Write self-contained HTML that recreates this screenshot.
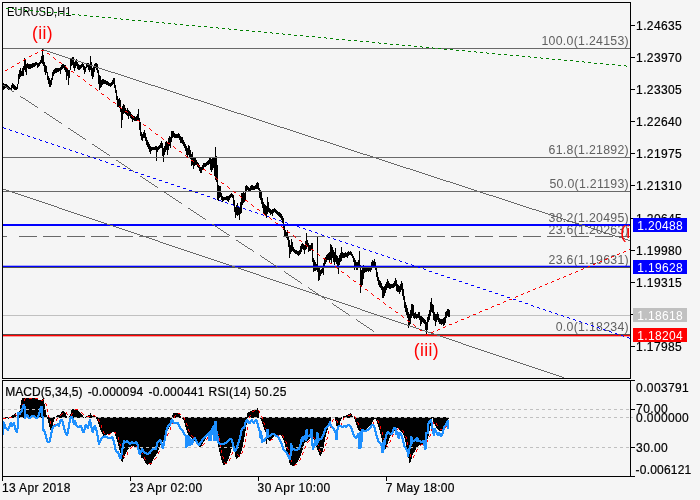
<!DOCTYPE html>
<html><head><meta charset="utf-8"><title>EURUSD,H1</title>
<style>
html,body{margin:0;padding:0;background:#f5f5f5}
body{width:700px;height:500px;overflow:hidden;position:relative}
svg{position:absolute;left:0;top:0;display:block;will-change:transform;opacity:0.999}
text{font-family:"Liberation Sans",sans-serif;font-size:12px;fill:#000;stroke:#000;stroke-width:0.2px}
.ax{letter-spacing:0.37px}
.fib{font-size:12.3px;fill:#606060;stroke:none;text-anchor:end;letter-spacing:0.3px}
.wave{font-size:17.5px;fill:#ff0000;stroke:none;letter-spacing:0.35px}
.c{shape-rendering:crispEdges}
</style></head><body>

<svg width="700" height="500" viewBox="0 0 700 500">
<rect x="0" y="0" width="700" height="500" fill="#f5f5f5"/>
<defs><clipPath id="cm"><rect x="3" y="3" width="627" height="375"/></clipPath><clipPath id="ci"><rect x="3" y="381" width="627" height="95"/></clipPath></defs>
<text transform="translate(7.0,16) scale(0.893,1)" style="font-size:12.5px;stroke:none">EURUSD,H1</text>
<g clip-path="url(#cm)">
<rect class="c" x="3" y="315" width="627" height="1" fill="#c0c0c0"/>
<path class="c" d="M3.5 83 V90 M4.5 84 V89 M5.5 84 V88 M6.5 84 V88 M7.5 85 V89 M8.5 86 V90 M9.5 87 V90 M10.5 88 V90 M11.5 85 V90 M12.5 83 V88 M13.5 84 V89 M14.5 85 V90 M15.5 86 V90 M16.5 87 V90 M17.5 84 V89 M18.5 74 V84 M19.5 70 V79 M20.5 68 V77 M21.5 71 V76 M22.5 68 V76 M23.5 66 V76 M24.5 58 V70 M25.5 60 V72 M26.5 64 V75 M27.5 63 V68 M28.5 63.5 V69 M29.5 64 V69 M30.5 63.5 V68.5 M31.5 63.5 V68 M32.5 63 V67.5 M33.5 63 V67 M34.5 62.5 V66.5 M35.5 62 V66 M36.5 62 V65 M37.5 63 V68 M38.5 63 V67 M39.5 62 V66 M40.5 60 V64 M41.5 56 V63 M42.5 49 V64 M43.5 55 V66 M44.5 62 V72 M45.5 65 V75 M46.5 66 V73 M47.5 72 V80 M48.5 76 V84 M49.5 78 V87 M50.5 80 V87 M51.5 78 V85 M52.5 72 V80 M53.5 70 V76 M54.5 69 V74 M55.5 68 V73 M56.5 68 V72.5 M57.5 68 V72 M58.5 67.5 V71.5 M59.5 67.5 V71 M60.5 67 V74 M61.5 65 V70 M62.5 64 V69 M63.5 64 V68 M64.5 64.5 V70 M65.5 65 V72 M66.5 67 V80 M67.5 68 V76 M68.5 70 V85 M69.5 70 V78 M70.5 58 V70 M71.5 59 V66 M72.5 57 V65 M73.5 57 V68 M74.5 62 V71 M75.5 60 V68 M76.5 59 V66 M77.5 62 V69 M78.5 64 V69.5 M79.5 65 V69.5 M80.5 64.5 V69 M81.5 64 V68 M82.5 63 V66.5 M83.5 64 V70 M84.5 66 V74 M85.5 67 V72 M86.5 64 V68 M87.5 63 V67 M88.5 63 V70 M89.5 64 V72 M90.5 56 V70 M91.5 62 V76 M92.5 68 V79 M93.5 66 V77 M94.5 64 V72 M95.5 63 V68 M96.5 63 V70 M97.5 64 V73 M98.5 70 V84 M99.5 75 V90 M100.5 76 V88 M101.5 80 V87 M102.5 79 V85 M103.5 79 V84 M104.5 79.5 V84 M105.5 80 V84 M106.5 80.5 V84.5 M107.5 81 V85 M108.5 82 V86 M109.5 82.5 V86 M110.5 83 V86.5 M111.5 82 V86 M112.5 80 V85 M113.5 78 V84 M114.5 78 V88 M115.5 85 V93 M116.5 90 V100 M117.5 96 V107 M118.5 99 V107 M119.5 98 V108 M120.5 100 V112 M121.5 108 V128 M122.5 106 V120 M123.5 104 V114 M124.5 105 V113 M125.5 108 V114 M126.5 110 V115 M127.5 108 V116 M128.5 110 V119 M129.5 111 V116 M130.5 112 V118 M131.5 114 V119 M132.5 115 V122 M133.5 116 V120 M134.5 116 V121 M135.5 117 V121 M136.5 116 V121 M137.5 114 V121 M138.5 109 V121 M139.5 118 V130 M140.5 122 V136 M141.5 132 V140 M142.5 134 V141 M143.5 132 V138 M144.5 130 V138 M145.5 133 V141 M146.5 137 V145 M147.5 140 V147 M148.5 142 V149 M149.5 144 V152 M150.5 146 V154 M151.5 147 V151 M152.5 147 V150 M153.5 147 V150 M154.5 146.5 V149.5 M155.5 146 V150 M156.5 146 V161 M157.5 147 V152 M158.5 145.5 V149.5 M159.5 144.5 V148.5 M160.5 143 V147.5 M161.5 140.5 V148 M162.5 143 V156 M163.5 148 V162 M164.5 146 V155 M165.5 141.5 V152 M166.5 141 V150 M167.5 142 V154.5 M168.5 138 V150 M169.5 136 V146 M170.5 137 V148 M171.5 131 V142 M172.5 131 V138 M173.5 131 V137 M174.5 133 V138 M175.5 134 V138 M176.5 134 V138 M177.5 134 V138 M178.5 133 V138 M179.5 134 V140 M180.5 136 V143 M181.5 137 V143 M182.5 137 V144 M183.5 140 V146 M184.5 142 V148 M185.5 143.5 V150.5 M186.5 145.5 V155 M187.5 148 V158 M188.5 145 V154.5 M189.5 146 V157 M190.5 150 V159 M191.5 154 V166 M192.5 152 V165 M193.5 157 V169 M194.5 158 V166 M195.5 158 V165 M196.5 160 V165 M197.5 162 V167 M198.5 163 V168 M199.5 165 V171 M200.5 167 V173 M201.5 167 V173 M202.5 165 V170 M203.5 163 V169 M204.5 163 V167 M205.5 163 V166.5 M206.5 162 V166 M207.5 161 V165 M208.5 160 V165 M209.5 158 V164 M210.5 158 V170 M211.5 159 V172 M212.5 158 V170 M213.5 157 V168 M214.5 158 V176 M215.5 147 V180 M216.5 156 V182 M217.5 165 V200 M218.5 185 V201 M219.5 186 V198 M220.5 186 V197 M221.5 193 V200 M222.5 196 V202 M223.5 197 V201 M224.5 197 V200 M225.5 196.5 V200 M226.5 196 V200 M227.5 196 V201 M228.5 196 V202 M229.5 195 V200 M230.5 193.5 V198 M231.5 193 V197 M232.5 194 V198 M233.5 195 V205 M234.5 200 V212 M235.5 207 V218 M236.5 205 V215 M237.5 203 V216 M238.5 206 V215 M239.5 207 V220 M240.5 202 V214 M241.5 193 V213 M242.5 193 V205 M243.5 192 V203 M244.5 193 V202 M245.5 186 V200 M246.5 185 V191 M247.5 186 V190 M248.5 187 V191 M249.5 188 V191 M250.5 186 V191 M251.5 185 V190 M252.5 184.5 V190 M253.5 186 V190 M254.5 186 V190 M255.5 185 V189 M256.5 182.5 V189 M257.5 182 V189 M258.5 182.5 V190 M259.5 188 V198 M260.5 190 V200 M261.5 192 V204 M262.5 198 V208 M263.5 202 V213 M264.5 204 V214 M265.5 205 V215 M266.5 206 V218 M267.5 197 V214 M268.5 202 V212 M269.5 208 V213 M270.5 209 V215 M271.5 210 V214 M272.5 209 V216 M273.5 209 V213 M274.5 208 V212 M275.5 209 V213 M276.5 210 V214 M277.5 211 V215 M278.5 211.5 V216 M279.5 212 V217 M280.5 213 V218 M281.5 214 V220 M282.5 216 V223 M283.5 218 V230 M284.5 224 V236 M285.5 230 V236 M286.5 232 V238 M287.5 230 V240 M288.5 237 V247 M289.5 240 V258 M290.5 245 V254 M291.5 239 V252 M292.5 242 V251 M293.5 247 V252 M294.5 249 V253 M295.5 250 V254 M296.5 250 V254 M297.5 251 V255 M298.5 251 V255.5 M299.5 250 V255 M300.5 246 V254 M301.5 244 V252 M302.5 243 V249 M303.5 244 V250 M304.5 245 V254 M305.5 241 V250 M306.5 233 V249 M307.5 240 V247 M308.5 243 V252 M309.5 245 V251 M310.5 245 V250.5 M311.5 243 V250 M312.5 243 V262 M313.5 258 V272 M314.5 260 V271 M315.5 262 V271 M316.5 264 V270 M317.5 236 V272 M318.5 266 V281 M319.5 268 V280 M320.5 270 V276 M321.5 269 V274 M322.5 268 V273 M323.5 263 V275 M324.5 258 V266 M325.5 257 V264 M326.5 255 V262 M327.5 254 V260 M328.5 253 V260 M329.5 252 V262 M330.5 244 V260 M331.5 245 V264 M332.5 247 V258 M333.5 250 V262 M334.5 252 V265 M335.5 248 V262 M336.5 255 V264 M337.5 256 V266 M338.5 258 V274 M339.5 255 V265 M340.5 253 V262 M341.5 247 V261 M342.5 252 V258 M343.5 253 V258 M344.5 253 V258 M345.5 252 V257 M346.5 253 V257 M347.5 252 V258 M348.5 251 V256 M349.5 251.5 V255 M350.5 251 V255 M351.5 252 V256 M352.5 254 V258 M353.5 256 V262 M354.5 258 V270 M355.5 260 V266 M356.5 262 V270 M357.5 262 V270 M358.5 260 V266 M359.5 251 V268 M360.5 265 V293 M361.5 270 V286 M362.5 268 V285 M363.5 265 V279 M364.5 267 V273 M365.5 267 V272 M366.5 267 V272 M367.5 266 V271 M368.5 267 V272 M369.5 267 V271 M370.5 266 V272 M371.5 262 V270 M372.5 260 V267 M373.5 261 V266 M374.5 259 V266 M375.5 262 V270 M376.5 267 V277 M377.5 272 V281 M378.5 277 V285 M379.5 280 V287 M380.5 281 V288 M381.5 283 V290 M382.5 286 V298 M383.5 287 V298 M384.5 286 V296 M385.5 284 V293 M386.5 282 V290 M387.5 279 V288 M388.5 281 V288 M389.5 283 V289 M390.5 284 V289 M391.5 284 V288 M392.5 284 V288 M393.5 283 V288 M394.5 281 V287 M395.5 278 V286 M396.5 280 V291 M397.5 284 V292 M398.5 285 V292 M399.5 286 V294 M400.5 284 V292 M401.5 281 V290 M402.5 283 V296 M403.5 289 V300 M404.5 296 V308 M405.5 302 V312 M406.5 305 V315 M407.5 308 V318 M408.5 312 V328 M409.5 314 V326 M410.5 310 V324 M411.5 304 V318 M412.5 304 V316 M413.5 305 V318 M414.5 313 V319 M415.5 312 V318 M416.5 314 V319 M417.5 314 V318 M418.5 312 V318 M419.5 312 V320 M420.5 316 V326 M421.5 316 V324 M422.5 317 V322 M423.5 318 V323 M424.5 319 V324 M425.5 320 V330 M426.5 322 V334 M427.5 317 V330 M428.5 314 V322 M429.5 310 V320 M430.5 302 V316 M431.5 298 V312 M432.5 304 V313 M433.5 305 V320 M434.5 312 V321 M435.5 314 V326 M436.5 314 V322 M437.5 312 V320 M438.5 314 V322 M439.5 318 V324 M440.5 319 V324 M441.5 319 V325 M442.5 319 V324 M443.5 318 V326 M444.5 317 V325 M445.5 312 V323 M446.5 311 V318 M447.5 309 V316 M448.5 309 V317 M449.5 310 V317" stroke="#000" stroke-width="1" fill="none"/>
<rect class="c" x="3" y="48" width="627" height="1" fill="#696969"/>
<rect class="c" x="3" y="157" width="627" height="1" fill="#696969"/>
<rect class="c" x="3" y="191" width="627" height="1" fill="#696969"/>
<rect class="c" x="3" y="236" width="4" height="1" fill="#696969"/>
<rect class="c" x="19" y="236" width="18" height="1" fill="#696969"/>
<rect class="c" x="43" y="236" width="18" height="1" fill="#696969"/>
<rect class="c" x="67" y="236" width="18" height="1" fill="#696969"/>
<rect class="c" x="91" y="236" width="18" height="1" fill="#696969"/>
<rect class="c" x="115" y="236" width="18" height="1" fill="#696969"/>
<rect class="c" x="139" y="236" width="18" height="1" fill="#696969"/>
<rect class="c" x="163" y="236" width="18" height="1" fill="#696969"/>
<rect class="c" x="187" y="236" width="18" height="1" fill="#696969"/>
<rect class="c" x="211" y="236" width="18" height="1" fill="#696969"/>
<rect class="c" x="235" y="236" width="18" height="1" fill="#696969"/>
<rect class="c" x="259" y="236" width="18" height="1" fill="#696969"/>
<rect class="c" x="283" y="236" width="18" height="1" fill="#696969"/>
<rect class="c" x="307" y="236" width="18" height="1" fill="#696969"/>
<rect class="c" x="331" y="236" width="18" height="1" fill="#696969"/>
<rect class="c" x="355" y="236" width="18" height="1" fill="#696969"/>
<rect class="c" x="379" y="236" width="18" height="1" fill="#696969"/>
<rect class="c" x="403" y="236" width="18" height="1" fill="#696969"/>
<rect class="c" x="427" y="236" width="18" height="1" fill="#696969"/>
<rect class="c" x="451" y="236" width="18" height="1" fill="#696969"/>
<rect class="c" x="475" y="236" width="18" height="1" fill="#696969"/>
<rect class="c" x="499" y="236" width="18" height="1" fill="#696969"/>
<rect class="c" x="523" y="236" width="18" height="1" fill="#696969"/>
<rect class="c" x="547" y="236" width="18" height="1" fill="#696969"/>
<rect class="c" x="571" y="236" width="18" height="1" fill="#696969"/>
<rect class="c" x="595" y="236" width="18" height="1" fill="#696969"/>
<rect class="c" x="619" y="236" width="11" height="1" fill="#696969"/>
<text class="fib" x="629" y="45">100.0(1.24153)</text>
<text class="fib" x="629" y="154">61.8(1.21892)</text>
<text class="fib" x="629" y="188">50.0(1.21193)</text>
<text class="fib" x="629" y="222">38.2(1.20495)</text>
<text class="fib" x="629" y="233.5">23.6(1.20263)</text>
<text class="fib" x="629" y="264">23.6(1.19631)</text>
<text class="fib" x="629" y="330.5">0.0(1.18234)</text>
<rect class="c" x="3" y="224" width="627" height="2" fill="#0000ff"/>
<rect class="c" x="3" y="266" width="627" height="1" fill="#0000ff"/>
<rect x="3" y="265" width="627" height="1" fill="#0000ff" opacity="0.3"/>
<rect class="c" x="3" y="267" width="627" height="1" fill="#55554a"/>
<rect class="c" x="3" y="334" width="627" height="1" fill="#5a4a4a"/>
<rect class="c" x="3" y="335" width="627" height="1" fill="#ff0000"/>
<rect x="3" y="336" width="627" height="1" fill="#ff0000" opacity="0.35"/>
<path class="c" d="M43 49.5H44M44 50.5H47M47 51.5H50M50 52.5H53M53 53.5H56M56 54.5H59M59 55.5H62M62 56.5H65M65 57.5H68M68 58.5H72M72 59.5H75M75 60.5H78M78 61.5H81M81 62.5H84M84 63.5H87M87 64.5H90M90 65.5H93M93 66.5H96M96 67.5H99M99 68.5H102M102 69.5H105M105 70.5H108M108 71.5H111M111 72.5H115M115 73.5H118M118 74.5H121M121 75.5H124M124 76.5H127M127 77.5H130M130 78.5H133M133 79.5H136M136 80.5H139M139 81.5H142M142 82.5H145M145 83.5H148M148 84.5H151M151 85.5H155M155 86.5H158M158 87.5H161M161 88.5H164M164 89.5H167M167 90.5H170M170 91.5H173M173 92.5H176M176 93.5H179M179 94.5H182M182 95.5H185M185 96.5H188M188 97.5H191M191 98.5H194M194 99.5H198M198 100.5H201M201 101.5H204M204 102.5H207M207 103.5H210M210 104.5H213M213 105.5H216M216 106.5H219M219 107.5H222M222 108.5H225M225 109.5H228M228 110.5H231M231 111.5H234M234 112.5H237M237 113.5H241M241 114.5H244M244 115.5H247M247 116.5H250M250 117.5H253M253 118.5H256M256 119.5H259M259 120.5H262M262 121.5H265M265 122.5H268M268 123.5H271M271 124.5H274M274 125.5H277M277 126.5H280M280 127.5H284M284 128.5H287M287 129.5H290M290 130.5H293M293 131.5H296M296 132.5H299M299 133.5H302M302 134.5H305M305 135.5H308M308 136.5H311M311 137.5H314M314 138.5H317M317 139.5H320M320 140.5H324M324 141.5H327M327 142.5H330M330 143.5H333M333 144.5H336M336 145.5H339M339 146.5H342M342 147.5H345M345 148.5H348M348 149.5H351M351 150.5H354M354 151.5H357M357 152.5H360M360 153.5H363M363 154.5H367M367 155.5H370M370 156.5H373M373 157.5H376M376 158.5H379M379 159.5H382M382 160.5H385M385 161.5H388M388 162.5H391M391 163.5H394M394 164.5H397M397 165.5H400M400 166.5H403M403 167.5H406M406 168.5H410M410 169.5H413M413 170.5H416M416 171.5H419M419 172.5H422M422 173.5H425M425 174.5H428M428 175.5H431M431 176.5H434M434 177.5H437M437 178.5H440M440 179.5H443M443 180.5H446M446 181.5H450M450 182.5H453M453 183.5H456M456 184.5H459M459 185.5H462M462 186.5H465M465 187.5H468M468 188.5H471M471 189.5H474M474 190.5H477M477 191.5H480M480 192.5H483M483 193.5H486M486 194.5H489M489 195.5H493M493 196.5H496M496 197.5H499M499 198.5H502M502 199.5H505M505 200.5H508M508 201.5H511M511 202.5H514M514 203.5H517M517 204.5H520M520 205.5H523M523 206.5H526M526 207.5H529M529 208.5H532M532 209.5H536M536 210.5H539M539 211.5H542M542 212.5H545M545 213.5H548M548 214.5H551M551 215.5H554M554 216.5H557M557 217.5H560M560 218.5H563M563 219.5H566M566 220.5H569M569 221.5H572M572 222.5H575M575 223.5H579M579 224.5H582M582 225.5H585M585 226.5H588M588 227.5H591M591 228.5H594M594 229.5H597M597 230.5H600M600 231.5H603M603 232.5H606M606 233.5H609M609 234.5H612M612 235.5H615M615 236.5H619M619 237.5H622M622 238.5H625M625 239.5H628M628 240.5H630" stroke="#696969" stroke-width="1" fill="none"/>
<path class="c" d="M3 189.5H6M6 190.5H9M9 191.5H12M12 192.5H15M15 193.5H18M18 194.5H21M21 195.5H24M24 196.5H27M27 197.5H30M30 198.5H33M33 199.5H36M36 200.5H39M39 201.5H42M42 202.5H45M45 203.5H48M48 204.5H51M51 205.5H54M54 206.5H57M57 207.5H59M59 208.5H62M62 209.5H65M65 210.5H68M68 211.5H71M71 212.5H74M74 213.5H77M77 214.5H80M80 215.5H83M83 216.5H86M86 217.5H89M89 218.5H92M92 219.5H95M95 220.5H98M98 221.5H101M101 222.5H104M104 223.5H107M107 224.5H110M110 225.5H113M113 226.5H116M116 227.5H119M119 228.5H122M122 229.5H125M125 230.5H128M128 231.5H131M131 232.5H134M134 233.5H137M137 234.5H140M140 235.5H143M143 236.5H146M146 237.5H149M149 238.5H152M152 239.5H155M155 240.5H158M158 241.5H160M160 242.5H163M163 243.5H166M166 244.5H169M169 245.5H172M172 246.5H175M175 247.5H178M178 248.5H181M181 249.5H184M184 250.5H187M187 251.5H190M190 252.5H193M193 253.5H196M196 254.5H199M199 255.5H202M202 256.5H205M205 257.5H208M208 258.5H211M211 259.5H214M214 260.5H217M217 261.5H220M220 262.5H223M223 263.5H226M226 264.5H229M229 265.5H232M232 266.5H235M235 267.5H238M238 268.5H241M241 269.5H244M244 270.5H247M247 271.5H250M250 272.5H253M253 273.5H256M256 274.5H259M259 275.5H261M261 276.5H264M264 277.5H267M267 278.5H270M270 279.5H273M273 280.5H276M276 281.5H279M279 282.5H282M282 283.5H285M285 284.5H288M288 285.5H291M291 286.5H294M294 287.5H297M297 288.5H300M300 289.5H303M303 290.5H306M306 291.5H309M309 292.5H312M312 293.5H315M315 294.5H318M318 295.5H321M321 296.5H324M324 297.5H327M327 298.5H330M330 299.5H333M333 300.5H336M336 301.5H339M339 302.5H342M342 303.5H345M345 304.5H348M348 305.5H351M351 306.5H354M354 307.5H357M357 308.5H360M360 309.5H362M362 310.5H365M365 311.5H368M368 312.5H371M371 313.5H374M374 314.5H377M377 315.5H380M380 316.5H383M383 317.5H386M386 318.5H389M389 319.5H392M392 320.5H395M395 321.5H398M398 322.5H401M401 323.5H404M404 324.5H407M407 325.5H410M410 326.5H413M413 327.5H416M416 328.5H419M419 329.5H422M422 330.5H425M425 331.5H428M428 332.5H431M431 333.5H434M434 334.5H437M437 335.5H440M440 336.5H443M443 337.5H446M446 338.5H449M449 339.5H452M452 340.5H455M455 341.5H458M458 342.5H461M461 343.5H463M463 344.5H466M466 345.5H469M469 346.5H472M472 347.5H475M475 348.5H478M478 349.5H481M481 350.5H484M484 351.5H487M487 352.5H490M490 353.5H493M493 354.5H496M496 355.5H499M499 356.5H502M502 357.5H505M505 358.5H508M508 359.5H511M511 360.5H514M514 361.5H517M517 362.5H520M520 363.5H523M523 364.5H526M526 365.5H529M529 366.5H532M532 367.5H535M535 368.5H538M538 369.5H541M541 370.5H544M544 371.5H547M547 372.5H550M550 373.5H553M553 374.5H556M556 375.5H559M559 376.5H562M562 377.5H564M564 378.5H567" stroke="#696969" stroke-width="1" fill="none"/>
<path class="c" d="M3 85.5H5M5 86.5H6M6 87.5H8M8 88.5H9M9 89.5H11M11 90.5H12M12 91.5H14M20 96.5H21M21 97.5H23M23 98.5H25M25 99.5H26M26 100.5H28M28 101.5H29M29 102.5H31M31 103.5H32M32 104.5H34M34 105.5H35M35 106.5H37M37 107.5H38M44 112.5H46M46 113.5H47M47 114.5H49M49 115.5H50M50 116.5H52M52 117.5H53M53 118.5H55M55 119.5H56M56 120.5H58M58 121.5H59M59 122.5H61M61 123.5H62M68 128.5H70M70 129.5H71M71 130.5H73M73 131.5H74M74 132.5H76M76 133.5H77M77 134.5H79M79 135.5H80M80 136.5H82M82 137.5H83M83 138.5H85M85 139.5H86M92 144.5H94M94 145.5H95M95 146.5H97M97 147.5H98M98 148.5H100M100 149.5H101M101 150.5H103M103 151.5H104M104 152.5H106M106 153.5H107M107 154.5H109M109 155.5H110M116 160.5H118M118 161.5H119M119 162.5H121M121 163.5H122M122 164.5H124M124 165.5H125M125 166.5H127M127 167.5H128M128 168.5H130M130 169.5H131M131 170.5H133M133 171.5H134M140 176.5H142M142 177.5H143M143 178.5H145M145 179.5H146M146 180.5H148M148 181.5H149M149 182.5H151M151 183.5H152M152 184.5H154M154 185.5H155M155 186.5H157M157 187.5H158M164 192.5H166M166 193.5H167M167 194.5H169M169 195.5H170M170 196.5H172M172 197.5H173M173 198.5H175M175 199.5H176M176 200.5H178M178 201.5H179M179 202.5H181M181 203.5H182M188 208.5H190M190 209.5H191M191 210.5H193M193 211.5H194M194 212.5H196M196 213.5H197M197 214.5H199M199 215.5H200M200 216.5H202M202 217.5H203M203 218.5H205M205 219.5H206M212 224.5H214M214 225.5H215M215 226.5H217M217 227.5H218M218 228.5H220M220 229.5H221M221 230.5H223M223 231.5H224M224 232.5H226M226 233.5H227M227 234.5H229M229 235.5H230M236 240.5H238M238 241.5H239M239 242.5H241M241 243.5H242M242 244.5H244M244 245.5H245M245 246.5H247M247 247.5H248M248 248.5H250M250 249.5H252M252 250.5H253M253 251.5H254M260 255.5H261M261 256.5H262M262 257.5H264M264 258.5H265M265 259.5H267M267 260.5H268M268 261.5H270M270 262.5H271M271 263.5H273M273 264.5H274M274 265.5H276M276 266.5H277M277 267.5H278M284 271.5H285M285 272.5H286M286 273.5H288M288 274.5H289M289 275.5H291M291 276.5H292M292 277.5H294M294 278.5H295M295 279.5H297M297 280.5H298M298 281.5H300M300 282.5H301M301 283.5H302M308 287.5H309M309 288.5H310M310 289.5H312M312 290.5H313M313 291.5H315M315 292.5H316M316 293.5H318M318 294.5H319M319 295.5H321M321 296.5H322M322 297.5H324M324 298.5H325M325 299.5H326M332 303.5H333M333 304.5H334M334 305.5H336M336 306.5H337M337 307.5H339M339 308.5H340M340 309.5H342M342 310.5H343M343 311.5H345M345 312.5H346M346 313.5H348M348 314.5H349M349 315.5H350M356 319.5H357M357 320.5H358M358 321.5H360M360 322.5H361M361 323.5H363M363 324.5H364M364 325.5H366M366 326.5H367M367 327.5H369M369 328.5H370M370 329.5H372M372 330.5H373M373 331.5H374" stroke="#696969" stroke-width="1" fill="none"/>
<path class="c" d="M3 127.5h1M4 128.5h1M5 128.5h1M9 129.5h1M10 130.5h1M11 130.5h1M15 131.5h1M16 132.5h1M17 132.5h1M21 133.5h1M22 134.5h1M23 134.5h1M27 135.5h1M28 136.5h1M29 136.5h1M33 137.5h1M34 138.5h1M35 138.5h1M39 139.5h1M40 140.5h1M41 140.5h1M45 141.5h1M46 142.5h1M47 142.5h1M51 143.5h1M52 144.5h1M53 144.5h1M57 145.5h1M58 146.5h1M59 146.5h1M63 147.5h1M64 148.5h1M65 148.5h1M69 149.5h1M70 150.5h1M71 150.5h1M75 151.5h1M76 152.5h1M77 152.5h1M81 153.5h1M82 154.5h1M83 154.5h1M87 155.5h1M88 156.5h1M89 156.5h1M93 157.5h1M94 158.5h1M95 158.5h1M99 159.5h1M100 160.5h1M101 160.5h1M105 161.5h1M106 162.5h1M107 162.5h1M111 164.5h1M112 164.5h1M113 164.5h1M117 166.5h1M118 166.5h1M119 166.5h1M123 168.5h1M124 168.5h1M125 168.5h1M129 170.5h1M130 170.5h1M131 170.5h1M135 172.5h1M136 172.5h1M137 172.5h1M141 174.5h1M142 174.5h1M143 174.5h1M147 176.5h1M148 176.5h1M149 176.5h1M153 178.5h1M154 178.5h1M155 178.5h1M159 180.5h1M160 180.5h1M161 180.5h1M165 182.5h1M166 182.5h1M167 182.5h1M171 184.5h1M172 184.5h1M173 184.5h1M177 186.5h1M178 186.5h1M179 186.5h1M183 188.5h1M184 188.5h1M185 188.5h1M189 190.5h1M190 190.5h1M191 190.5h1M195 192.5h1M196 192.5h1M197 192.5h1M201 194.5h1M202 194.5h1M203 194.5h1M207 196.5h1M208 196.5h1M209 196.5h1M213 198.5h1M214 198.5h1M215 199.5h1M219 200.5h1M220 200.5h1M221 201.5h1M225 202.5h1M226 202.5h1M227 203.5h1M231 204.5h1M232 204.5h1M233 205.5h1M237 206.5h1M238 206.5h1M239 207.5h1M243 208.5h1M244 208.5h1M245 209.5h1M249 210.5h1M250 210.5h1M251 211.5h1M255 212.5h1M256 212.5h1M257 213.5h1M261 214.5h1M262 214.5h1M263 215.5h1M267 216.5h1M268 216.5h1M269 217.5h1M273 218.5h1M274 218.5h1M275 219.5h1M279 220.5h1M280 220.5h1M281 221.5h1M285 222.5h1M286 222.5h1M287 223.5h1M291 224.5h1M292 224.5h1M293 225.5h1M297 226.5h1M298 226.5h1M299 227.5h1M303 228.5h1M304 228.5h1M305 229.5h1M309 230.5h1M310 230.5h1M311 231.5h1M315 232.5h1M316 232.5h1M317 233.5h1M321 234.5h1M322 235.5h1M323 235.5h1M327 236.5h1M328 237.5h1M329 237.5h1M333 238.5h1M334 239.5h1M335 239.5h1M339 240.5h1M340 241.5h1M341 241.5h1M345 242.5h1M346 243.5h1M347 243.5h1M351 244.5h1M352 245.5h1M353 245.5h1M357 246.5h1M358 247.5h1M359 247.5h1M363 248.5h1M364 249.5h1M365 249.5h1M369 250.5h1M370 251.5h1M371 251.5h1M375 252.5h1M376 253.5h1M377 253.5h1M381 254.5h1M382 255.5h1M383 255.5h1M387 256.5h1M388 257.5h1M389 257.5h1M393 258.5h1M394 259.5h1M395 259.5h1M399 260.5h1M400 261.5h1M401 261.5h1M405 262.5h1M406 263.5h1M407 263.5h1M411 264.5h1M412 265.5h1M413 265.5h1M417 266.5h1M418 267.5h1M419 267.5h1M423 268.5h1M424 269.5h1M425 269.5h1M429 271.5h1M430 271.5h1M431 271.5h1M435 273.5h1M436 273.5h1M437 273.5h1M441 275.5h1M442 275.5h1M443 275.5h1M447 277.5h1M448 277.5h1M449 277.5h1M453 279.5h1M454 279.5h1M455 279.5h1M459 281.5h1M460 281.5h1M461 281.5h1M465 283.5h1M466 283.5h1M467 283.5h1M471 285.5h1M472 285.5h1M473 285.5h1M477 287.5h1M478 287.5h1M479 287.5h1M483 289.5h1M484 289.5h1M485 289.5h1M489 291.5h1M490 291.5h1M491 291.5h1M495 293.5h1M496 293.5h1M497 293.5h1M501 295.5h1M502 295.5h1M503 295.5h1M507 297.5h1M508 297.5h1M509 297.5h1M513 299.5h1M514 299.5h1M515 299.5h1M519 301.5h1M520 301.5h1M521 301.5h1M525 303.5h1M526 303.5h1M527 303.5h1M531 305.5h1M532 305.5h1M533 306.5h1M537 307.5h1M538 307.5h1M539 308.5h1M543 309.5h1M544 309.5h1M545 310.5h1M549 311.5h1M550 311.5h1M551 312.5h1M555 313.5h1M556 313.5h1M557 314.5h1M561 315.5h1M562 315.5h1M563 316.5h1M567 317.5h1M568 317.5h1M569 318.5h1M573 319.5h1M574 319.5h1M575 320.5h1M579 321.5h1M580 321.5h1M581 322.5h1M585 323.5h1M586 323.5h1M587 324.5h1M591 325.5h1M592 325.5h1M593 326.5h1M597 327.5h1M598 327.5h1M599 328.5h1M603 329.5h1M604 329.5h1M605 330.5h1M609 331.5h1M610 331.5h1M611 332.5h1M615 333.5h1M616 333.5h1M617 334.5h1M621 335.5h1M622 335.5h1M623 336.5h1M627 337.5h1M628 337.5h1M629 338.5h1" stroke="#0000ff" stroke-width="1" fill="none"/>
<path class="c" d="M6 8.5h1M7 8.5h1M8 8.5h1M12 8.5h1M13 8.5h1M14 9.5h1M18 9.5h1M19 9.5h1M20 9.5h1M24 9.5h1M25 10.5h1M26 10.5h1M30 10.5h1M31 10.5h1M32 10.5h1M36 11.5h1M37 11.5h1M38 11.5h1M42 11.5h1M43 11.5h1M44 11.5h1M48 12.5h1M49 12.5h1M50 12.5h1M54 12.5h1M55 12.5h1M56 12.5h1M60 13.5h1M61 13.5h1M62 13.5h1M66 13.5h1M67 13.5h1M68 14.5h1M72 14.5h1M73 14.5h1M74 14.5h1M78 14.5h1M79 15.5h1M80 15.5h1M84 15.5h1M85 15.5h1M86 15.5h1M90 16.5h1M91 16.5h1M92 16.5h1M96 16.5h1M97 16.5h1M98 16.5h1M102 17.5h1M103 17.5h1M104 17.5h1M108 17.5h1M109 17.5h1M110 17.5h1M114 18.5h1M115 18.5h1M116 18.5h1M120 18.5h1M121 19.5h1M122 19.5h1M126 19.5h1M127 19.5h1M128 19.5h1M132 20.5h1M133 20.5h1M134 20.5h1M138 20.5h1M139 20.5h1M140 20.5h1M144 21.5h1M145 21.5h1M146 21.5h1M150 21.5h1M151 21.5h1M152 21.5h1M156 22.5h1M157 22.5h1M158 22.5h1M162 22.5h1M163 22.5h1M164 23.5h1M168 23.5h1M169 23.5h1M170 23.5h1M174 23.5h1M175 24.5h1M176 24.5h1M180 24.5h1M181 24.5h1M182 24.5h1M186 25.5h1M187 25.5h1M188 25.5h1M192 25.5h1M193 25.5h1M194 25.5h1M198 26.5h1M199 26.5h1M200 26.5h1M204 26.5h1M205 26.5h1M206 26.5h1M210 27.5h1M211 27.5h1M212 27.5h1M216 27.5h1M217 27.5h1M218 28.5h1M222 28.5h1M223 28.5h1M224 28.5h1M228 28.5h1M229 29.5h1M230 29.5h1M234 29.5h1M235 29.5h1M236 29.5h1M240 30.5h1M241 30.5h1M242 30.5h1M246 30.5h1M247 30.5h1M248 30.5h1M252 31.5h1M253 31.5h1M254 31.5h1M258 31.5h1M259 31.5h1M260 31.5h1M264 32.5h1M265 32.5h1M266 32.5h1M270 32.5h1M271 32.5h1M272 33.5h1M276 33.5h1M277 33.5h1M278 33.5h1M282 33.5h1M283 34.5h1M284 34.5h1M288 34.5h1M289 34.5h1M290 34.5h1M294 35.5h1M295 35.5h1M296 35.5h1M300 35.5h1M301 35.5h1M302 35.5h1M306 36.5h1M307 36.5h1M308 36.5h1M312 36.5h1M313 36.5h1M314 36.5h1M318 37.5h1M319 37.5h1M320 37.5h1M324 37.5h1M325 37.5h1M326 38.5h1M330 38.5h1M331 38.5h1M332 38.5h1M336 39.5h1M337 39.5h1M338 39.5h1M342 39.5h1M343 39.5h1M344 39.5h1M348 40.5h1M349 40.5h1M350 40.5h1M354 40.5h1M355 40.5h1M356 40.5h1M360 41.5h1M361 41.5h1M362 41.5h1M366 41.5h1M367 41.5h1M368 41.5h1M372 42.5h1M373 42.5h1M374 42.5h1M378 42.5h1M379 43.5h1M380 43.5h1M384 43.5h1M385 43.5h1M386 43.5h1M390 44.5h1M391 44.5h1M392 44.5h1M396 44.5h1M397 44.5h1M398 44.5h1M402 45.5h1M403 45.5h1M404 45.5h1M408 45.5h1M409 45.5h1M410 45.5h1M414 46.5h1M415 46.5h1M416 46.5h1M420 46.5h1M421 46.5h1M422 47.5h1M426 47.5h1M427 47.5h1M428 47.5h1M432 47.5h1M433 48.5h1M434 48.5h1M438 48.5h1M439 48.5h1M440 48.5h1M444 49.5h1M445 49.5h1M446 49.5h1M450 49.5h1M451 49.5h1M452 49.5h1M456 50.5h1M457 50.5h1M458 50.5h1M462 50.5h1M463 50.5h1M464 50.5h1M468 51.5h1M469 51.5h1M470 51.5h1M474 51.5h1M475 51.5h1M476 52.5h1M480 52.5h1M481 52.5h1M482 52.5h1M486 52.5h1M487 53.5h1M488 53.5h1M492 53.5h1M493 53.5h1M494 53.5h1M498 54.5h1M499 54.5h1M500 54.5h1M504 54.5h1M505 54.5h1M506 54.5h1M510 55.5h1M511 55.5h1M512 55.5h1M516 55.5h1M517 55.5h1M518 55.5h1M522 56.5h1M523 56.5h1M524 56.5h1M528 56.5h1M529 56.5h1M530 57.5h1M534 57.5h1M535 57.5h1M536 57.5h1M540 57.5h1M541 58.5h1M542 58.5h1M546 58.5h1M547 58.5h1M548 58.5h1M552 59.5h1M553 59.5h1M554 59.5h1M558 59.5h1M559 59.5h1M560 59.5h1M564 60.5h1M565 60.5h1M566 60.5h1M570 60.5h1M571 60.5h1M572 60.5h1M576 61.5h1M577 61.5h1M578 61.5h1M582 61.5h1M583 61.5h1M584 62.5h1M588 62.5h1M589 62.5h1M590 62.5h1M594 63.5h1M595 63.5h1M596 63.5h1M600 63.5h1M601 63.5h1M602 63.5h1M606 64.5h1M607 64.5h1M608 64.5h1M612 64.5h1M613 64.5h1M614 64.5h1M618 65.5h1M619 65.5h1M620 65.5h1M624 65.5h1M625 65.5h1M626 66.5h1" stroke="#008000" stroke-width="1" fill="none"/>
<path class="c" d="M5 70.5h1M6 70.5h1M7 69.5h1M11 67.5h1M12 66.5h1M13 66.5h1M17 63.5h1M18 63.5h1M19 62.5h1M23 60.5h1M24 59.5h1M25 59.5h1M29 56.5h1M30 56.5h1M31 55.5h1M35 53.5h1M36 53.5h1M37 52.5h1M41 50.5h1M42 50.5h1M43 50.5h1" stroke="#ff0000" stroke-width="1" fill="none"/>
<path class="c" d="M47 53.5h1M48 53.5h1M49 54.5h1M53 57.5h1M54 58.5h1M55 59.5h1M59 62.5h1M60 62.5h1M61 63.5h1M65 66.5h1M66 67.5h1M67 68.5h1M71 71.5h1M72 71.5h1M73 72.5h1M77 75.5h1M78 76.5h1M79 76.5h1M83 79.5h1M84 80.5h1M85 81.5h1M89 84.5h1M90 85.5h1M91 85.5h1M95 88.5h1M96 89.5h1M97 90.5h1M101 93.5h1M102 94.5h1M103 94.5h1M107 97.5h1M108 98.5h1M109 99.5h1M113 102.5h1M114 102.5h1M115 103.5h1M119 106.5h1M120 107.5h1M121 108.5h1M125 111.5h1M126 111.5h1M127 112.5h1M131 115.5h1M132 116.5h1M133 117.5h1M137 120.5h1M138 120.5h1M139 121.5h1M143 124.5h1M144 125.5h1M145 125.5h1M149 128.5h1M150 129.5h1M151 130.5h1M155 133.5h1M156 134.5h1M157 134.5h1M161 137.5h1M162 138.5h1M163 139.5h1M167 142.5h1M168 143.5h1M169 143.5h1M173 146.5h1M174 147.5h1M175 148.5h1M179 151.5h1M180 151.5h1M181 152.5h1M185 155.5h1M186 156.5h1M187 157.5h1M191 160.5h1M192 160.5h1M193 161.5h1M197 164.5h1M198 165.5h1M199 166.5h1M203 169.5h1M204 169.5h1M205 170.5h1M209 173.5h1M210 174.5h1M211 174.5h1M215 177.5h1M216 178.5h1M217 179.5h1M221 182.5h1M222 183.5h1M223 183.5h1M227 186.5h1M228 187.5h1M229 188.5h1M233 191.5h1M234 192.5h1M235 192.5h1M239 195.5h1M240 196.5h1M241 197.5h1M245 200.5h1M246 200.5h1M247 201.5h1M251 204.5h1M252 205.5h1M253 206.5h1M257 209.5h1M258 209.5h1M259 210.5h1M263 213.5h1M264 214.5h1M265 215.5h1M269 217.5h1M270 218.5h1M271 219.5h1M275 222.5h1M276 223.5h1M277 223.5h1M281 226.5h1M282 227.5h1M283 228.5h1M287 231.5h1M288 232.5h1M289 232.5h1M293 235.5h1M294 236.5h1M295 237.5h1M299 240.5h1M300 240.5h1M301 241.5h1M305 244.5h1M306 245.5h1M307 246.5h1M311 249.5h1M312 249.5h1M313 250.5h1M317 253.5h1M318 254.5h1M319 255.5h1M323 258.5h1M324 258.5h1M325 259.5h1M329 262.5h1M330 263.5h1M331 263.5h1M335 266.5h1M336 267.5h1M337 268.5h1M341 271.5h1M342 272.5h1M343 272.5h1M347 275.5h1M348 276.5h1M349 277.5h1M353 280.5h1M354 281.5h1M355 281.5h1M359 284.5h1M360 285.5h1M361 286.5h1M365 289.5h1M366 289.5h1M367 290.5h1M371 293.5h1M372 294.5h1M373 295.5h1M377 298.5h1M378 298.5h1M379 299.5h1M383 302.5h1M384 303.5h1M385 304.5h1M389 307.5h1M390 307.5h1M391 308.5h1M395 311.5h1M396 312.5h1M397 312.5h1M401 315.5h1M402 316.5h1M403 317.5h1M407 320.5h1M408 321.5h1M409 321.5h1M413 324.5h1M414 325.5h1M415 326.5h1M419 329.5h1M420 330.5h1M421 330.5h1" stroke="#ff0000" stroke-width="1" fill="none"/>
<path class="c" d="M425 335.5h1M426 334.5h1M427 334.5h1M431 332.5h1M432 332.5h1M433 331.5h1M437 330.5h1M438 329.5h1M439 329.5h1M443 327.5h1M444 327.5h1M445 326.5h1M449 324.5h1M450 324.5h1M451 324.5h1M455 322.5h1M456 322.5h1M457 321.5h1M461 319.5h1M462 319.5h1M463 319.5h1M467 317.5h1M468 317.5h1M469 316.5h1M473 314.5h1M474 314.5h1M475 314.5h1M479 312.5h1M480 311.5h1M481 311.5h1M485 309.5h1M486 309.5h1M487 309.5h1M491 307.5h1M492 306.5h1M493 306.5h1M497 304.5h1M498 304.5h1M499 304.5h1M503 302.5h1M504 301.5h1M505 301.5h1M509 299.5h1M510 299.5h1M511 299.5h1M515 297.5h1M516 296.5h1M517 296.5h1M521 294.5h1M522 294.5h1M523 293.5h1M527 292.5h1M528 291.5h1M529 291.5h1M533 289.5h1M534 289.5h1M535 288.5h1M539 287.5h1M540 286.5h1M541 286.5h1M545 284.5h1M546 284.5h1M547 283.5h1M551 282.5h1M552 281.5h1M553 281.5h1M557 279.5h1M558 279.5h1M559 278.5h1M563 277.5h1M564 276.5h1M565 276.5h1M569 274.5h1M570 274.5h1M571 273.5h1M575 272.5h1M576 271.5h1M577 271.5h1M581 269.5h1M582 269.5h1M583 268.5h1M587 267.5h1M588 266.5h1M589 266.5h1M593 264.5h1M594 264.5h1M595 263.5h1M599 262.5h1M600 261.5h1M601 261.5h1M605 259.5h1M606 259.5h1M607 258.5h1M611 257.5h1M612 256.5h1M613 256.5h1M617 254.5h1M618 254.5h1M619 253.5h1M623 252.5h1M624 251.5h1M625 251.5h1M629 249.5h1" stroke="#ff0000" stroke-width="1" fill="none"/>
<text class="wave" x="32.0" y="39.0">(ii)</text>
<text class="wave" x="413.8" y="355.6">(iii)</text>
<text class="wave" x="620.2" y="238.4">(i)</text>
</g>
<g clip-path="url(#ci)">
<path class="c" d="M3.5 417 V418.5 M4.5 417 V418.5 M5.5 417 V418 M6.5 416.5 V418 M7.5 417 V418 M8.5 417 V418.5 M10.5 416.5 V418 M11.5 416 V418 M12.5 415 V418 M13.5 414.5 V418 M14.5 413.5 V418 M15.5 413 V418 M18.5 414 V418 M19.5 411 V418 M20.5 405 V418 M21.5 400 V418 M22.5 398 V418 M23.5 398 V418 M24.5 398 V418 M25.5 398 V418 M26.5 398 V418 M27.5 398 V418 M28.5 398 V418 M29.5 398 V418 M30.5 398 V418 M31.5 398 V418 M32.5 398 V418 M33.5 398 V418 M34.5 398 V418 M35.5 398 V418 M36.5 398 V418 M37.5 398 V418 M38.5 400 V418 M39.5 400 V418 M40.5 400 V418 M41.5 400 V418 M42.5 399 V418 M43.5 398 V418 M44.5 404 V418 M45.5 410 V418 M46.5 415 V418 M47.5 417 V418.5 M48.5 417 V422.5 M49.5 417 V426.5 M50.5 417 V430 M51.5 417 V429.5 M52.5 417 V425.5 M53.5 417 V421.5 M54.5 417 V419 M56.5 416 V418 M57.5 414.5 V418 M58.5 414.5 V418 M59.5 414.5 V418 M60.5 414 V418 M61.5 412 V418 M62.5 411 V418 M63.5 410.5 V418 M64.5 411.5 V418 M65.5 413 V418 M66.5 416 V418 M69.5 416 V418 M70.5 414 V418 M71.5 410 V418 M72.5 408.5 V418 M73.5 408.5 V418 M74.5 409 V418 M75.5 410 V418 M76.5 409 V418 M77.5 410 V418 M78.5 411 V418 M79.5 412 V418 M80.5 413 V418 M81.5 414 V418 M82.5 415 V418 M83.5 416.5 V418 M85.5 416.5 V418 M86.5 416 V418 M87.5 415.5 V418 M88.5 415 V418 M89.5 414.5 V418 M90.5 413 V418 M91.5 415 V418 M92.5 416 V418 M93.5 416 V418 M94.5 416 V418 M96.5 417 V418.5 M97.5 417 V420.5 M98.5 417 V423.5 M99.5 417 V426.5 M100.5 417 V429.5 M101.5 417 V431.5 M102.5 417 V433.5 M103.5 417 V435.5 M104.5 417 V436.5 M105.5 417 V435.5 M106.5 417 V434.5 M107.5 417 V434 M108.5 417 V433.5 M109.5 417 V433.5 M110.5 417 V433 M111.5 417 V432.5 M112.5 417 V432 M113.5 417 V431.5 M114.5 417 V432.5 M115.5 417 V435.5 M116.5 417 V438.5 M117.5 417 V441.5 M118.5 417 V445.5 M119.5 417 V449.5 M120.5 417 V452.5 M121.5 417 V460.5 M122.5 417 V461.5 M123.5 417 V458.5 M124.5 417 V455.5 M125.5 417 V453.5 M126.5 417 V451.5 M127.5 417 V449.5 M128.5 417 V448.5 M129.5 417 V447.5 M130.5 417 V446.5 M131.5 417 V445.5 M132.5 417 V445.5 M133.5 417 V446 M134.5 417 V446.5 M135.5 417 V446.5 M136.5 417 V447.5 M137.5 417 V448.5 M138.5 417 V449.5 M139.5 417 V450.5 M140.5 417 V453.5 M141.5 417 V457.5 M142.5 417 V457.5 M143.5 417 V458.5 M144.5 417 V460.5 M145.5 417 V462.5 M146.5 417 V463.5 M147.5 417 V464.5 M148.5 417 V463.5 M149.5 417 V463.5 M150.5 417 V464.5 M151.5 417 V462.5 M152.5 417 V460.5 M153.5 417 V458.5 M154.5 417 V457 M155.5 417 V455.5 M156.5 417 V454 M157.5 417 V452.5 M158.5 417 V449.5 M159.5 417 V447 M160.5 417 V444.5 M161.5 417 V443 M162.5 417 V441.5 M163.5 417 V439.5 M164.5 417 V437.5 M165.5 417 V435.5 M166.5 417 V433.5 M167.5 417 V431 M168.5 417 V428.5 M169.5 417 V426.5 M170.5 417 V424.5 M171.5 417 V421.5 M172.5 415 V418 M173.5 413 V418 M174.5 413 V418 M175.5 413 V418 M176.5 413 V418 M177.5 413 V418 M178.5 413 V418 M179.5 413 V418 M180.5 416 V418 M182.5 417 V418.5 M183.5 417 V419.5 M184.5 417 V422.5 M185.5 417 V426.5 M186.5 417 V429.5 M187.5 417 V432.5 M188.5 417 V434.5 M189.5 417 V435.5 M190.5 417 V436.5 M191.5 417 V437.5 M192.5 417 V438.5 M193.5 417 V439.5 M194.5 417 V440.5 M195.5 417 V441.5 M196.5 417 V443.5 M197.5 417 V444.5 M198.5 417 V445.5 M199.5 417 V446.5 M200.5 417 V446.5 M201.5 417 V445.5 M202.5 417 V443.5 M203.5 417 V441.5 M204.5 417 V440.5 M205.5 417 V438.5 M206.5 417 V436.5 M207.5 417 V435.5 M208.5 417 V433.5 M209.5 417 V432.5 M210.5 417 V432.5 M211.5 417 V432.5 M212.5 417 V433 M213.5 417 V433.5 M214.5 417 V433.5 M215.5 417 V430.5 M216.5 417 V428.5 M217.5 417 V436.5 M218.5 417 V447.5 M219.5 417 V451.5 M220.5 417 V455.5 M221.5 417 V459.5 M222.5 417 V462.5 M223.5 417 V464.5 M224.5 417 V464.5 M225.5 417 V464 M226.5 417 V462.5 M227.5 417 V460.5 M228.5 417 V458.5 M229.5 417 V455.5 M230.5 417 V452.5 M231.5 417 V448.5 M232.5 417 V445.5 M233.5 417 V446.5 M234.5 417 V449.5 M235.5 417 V456.5 M236.5 417 V458.5 M237.5 417 V457.5 M238.5 417 V456.5 M239.5 417 V455.5 M240.5 417 V453.5 M241.5 417 V450.5 M242.5 417 V446.5 M243.5 417 V441.5 M244.5 417 V436.5 M245.5 417 V430.5 M246.5 417 V424.5 M247.5 413 V418 M248.5 412 V418 M249.5 411.5 V418 M250.5 411 V418 M251.5 410.5 V418 M252.5 410 V418 M253.5 409.5 V418 M254.5 410 V418 M255.5 410 V418 M256.5 409 V418 M257.5 408 V418 M258.5 411 V418 M260.5 417 V418.5 M261.5 417 V420.5 M262.5 417 V423.5 M263.5 417 V426.5 M264.5 417 V429.5 M265.5 417 V431.5 M266.5 417 V443.5 M267.5 417 V438.5 M268.5 417 V439.5 M269.5 417 V440.5 M270.5 417 V439.5 M271.5 417 V438.5 M272.5 417 V437.5 M273.5 417 V436.5 M274.5 417 V435.5 M275.5 417 V435.5 M276.5 417 V435.5 M277.5 417 V434.5 M278.5 417 V434.5 M279.5 417 V434.5 M280.5 417 V435 M281.5 417 V435.5 M282.5 417 V437.5 M283.5 417 V439.5 M284.5 417 V442.5 M285.5 417 V446.5 M286.5 417 V450.5 M287.5 417 V454.5 M288.5 417 V458.5 M289.5 417 V462.5 M290.5 417 V464.5 M291.5 417 V465 M292.5 417 V465.5 M293.5 417 V465.5 M294.5 417 V464.5 M295.5 417 V463.5 M296.5 417 V462.5 M297.5 417 V461.5 M298.5 417 V459.5 M299.5 417 V457.5 M300.5 417 V455.5 M301.5 417 V452.5 M302.5 417 V449.5 M303.5 417 V445.5 M304.5 417 V442.5 M305.5 417 V441.5 M306.5 417 V441.5 M307.5 417 V440.5 M308.5 417 V439.5 M309.5 417 V438.5 M310.5 417 V437.5 M311.5 417 V437.5 M312.5 417 V437.5 M313.5 417 V438.5 M314.5 417 V440.5 M315.5 417 V443.5 M316.5 417 V446.5 M317.5 417 V449.5 M318.5 417 V451.5 M319.5 417 V454.5 M320.5 417 V455.5 M321.5 417 V453.5 M322.5 417 V451.5 M323.5 417 V447.5 M324.5 417 V441.5 M325.5 417 V436.5 M326.5 417 V432.5 M327.5 417 V429.5 M328.5 417 V426.5 M329.5 417 V423.5 M330.5 417 V421.5 M335.5 417 V420.5 M336.5 417 V425.5 M337.5 417 V430.5 M338.5 417 V428.5 M339.5 417 V424.5 M340.5 417 V420.5 M341.5 417 V418.5 M343.5 416 V418 M344.5 415.5 V418 M345.5 415.5 V418 M346.5 415 V418 M347.5 415 V418 M348.5 414 V418 M349.5 413.5 V418 M350.5 413 V418 M351.5 414 V418 M352.5 415.5 V418 M354.5 417 V418.5 M355.5 417 V421.5 M356.5 417 V424.5 M357.5 417 V427.5 M358.5 417 V429.5 M359.5 417 V430.5 M360.5 417 V430.5 M361.5 417 V430.5 M362.5 417 V430.5 M363.5 417 V430.5 M364.5 417 V430 M365.5 417 V429.5 M366.5 417 V428.5 M367.5 417 V427.5 M368.5 417 V426.5 M369.5 417 V425.5 M370.5 417 V424.5 M371.5 417 V423.5 M372.5 417 V421.5 M373.5 417 V420 M374.5 417 V418.5 M375.5 417 V418.5 M376.5 417 V420.5 M377.5 417 V423.5 M378.5 417 V426.5 M379.5 417 V429.5 M380.5 417 V433.5 M381.5 417 V437.5 M382.5 417 V441.5 M383.5 417 V444.5 M384.5 417 V447.5 M385.5 417 V449 M386.5 417 V446.5 M387.5 417 V443.5 M388.5 417 V440.5 M389.5 417 V437.5 M390.5 417 V435.5 M391.5 417 V433.5 M392.5 417 V432.5 M393.5 417 V431.5 M394.5 417 V430.5 M395.5 417 V428.5 M396.5 417 V427.5 M397.5 417 V427.5 M398.5 417 V428.5 M399.5 417 V429.5 M400.5 417 V430.5 M401.5 417 V431.5 M402.5 417 V432.5 M403.5 417 V434.5 M404.5 417 V437.5 M405.5 417 V441.5 M406.5 417 V446.5 M407.5 417 V451.5 M408.5 417 V457.5 M409.5 417 V462.5 M410.5 417 V461.5 M411.5 417 V458.5 M412.5 417 V454.5 M413.5 417 V452.5 M414.5 417 V451.5 M415.5 417 V449.5 M416.5 417 V447.5 M417.5 417 V446.5 M418.5 417 V445.5 M419.5 417 V444.5 M420.5 417 V444.5 M421.5 417 V443.5 M422.5 417 V443.5 M423.5 417 V442.5 M424.5 417 V442.5 M425.5 417 V441.5 M426.5 417 V440.5 M427.5 417 V438.5 M428.5 417 V435.5 M429.5 417 V430.5 M430.5 417 V425.5 M431.5 417 V420.5 M432.5 416.5 V418 M433.5 417 V421.5 M434.5 417 V423.5 M435.5 417 V425.5 M436.5 417 V427.5 M437.5 417 V428.5 M438.5 417 V429.5 M439.5 417 V430.5 M440.5 417 V430.5 M441.5 417 V430.5 M442.5 417 V430.5 M443.5 417 V428.5 M444.5 417 V426.5 M445.5 417 V424.5 M446.5 417 V422.5 M447.5 417 V420 M448.5 417 V418.5" stroke="#000" stroke-width="1" fill="none"/>
<path class="c" d="M3 409.5H5M8 409.5H11M14 409.5H17M20 409.5H23M26 409.5H29M32 409.5H35M38 409.5H41M44 409.5H47M50 409.5H53M56 409.5H59M62 409.5H65M68 409.5H71M74 409.5H77M80 409.5H83M86 409.5H89M92 409.5H95M98 409.5H101M104 409.5H107M110 409.5H113M116 409.5H119M122 409.5H125M128 409.5H131M134 409.5H137M140 409.5H143M146 409.5H149M152 409.5H155M158 409.5H161M164 409.5H167M170 409.5H173M176 409.5H179M182 409.5H185M188 409.5H191M194 409.5H197M200 409.5H203M206 409.5H209M212 409.5H215M218 409.5H221M224 409.5H227M230 409.5H233M236 409.5H239M242 409.5H245M248 409.5H251M254 409.5H257M260 409.5H263M266 409.5H269M272 409.5H275M278 409.5H281M284 409.5H287M290 409.5H293M296 409.5H299M302 409.5H305M308 409.5H311M314 409.5H317M320 409.5H323M326 409.5H329M332 409.5H335M338 409.5H341M344 409.5H347M350 409.5H353M356 409.5H359M362 409.5H365M368 409.5H371M374 409.5H377M380 409.5H383M386 409.5H389M392 409.5H395M398 409.5H401M404 409.5H407M410 409.5H413M416 409.5H419M422 409.5H425M428 409.5H431M434 409.5H437M440 409.5H443M446 409.5H449M452 409.5H455M458 409.5H461M464 409.5H467M470 409.5H473M476 409.5H479M482 409.5H485M488 409.5H491M494 409.5H497M500 409.5H503M506 409.5H509M512 409.5H515M518 409.5H521M524 409.5H527M530 409.5H533M536 409.5H539M542 409.5H545M548 409.5H551M554 409.5H557M560 409.5H563M566 409.5H569M572 409.5H575M578 409.5H581M584 409.5H587M590 409.5H593M596 409.5H599M602 409.5H605M608 409.5H611M614 409.5H617M620 409.5H623M626 409.5H629" stroke="#c0c0c0" stroke-width="1" fill="none"/>
<path class="c" d="M3 417.5H5M8 417.5H11M14 417.5H17M20 417.5H23M26 417.5H29M32 417.5H35M38 417.5H41M44 417.5H47M50 417.5H53M56 417.5H59M62 417.5H65M68 417.5H71M74 417.5H77M80 417.5H83M86 417.5H89M92 417.5H95M98 417.5H101M104 417.5H107M110 417.5H113M116 417.5H119M122 417.5H125M128 417.5H131M134 417.5H137M140 417.5H143M146 417.5H149M152 417.5H155M158 417.5H161M164 417.5H167M170 417.5H173M176 417.5H179M182 417.5H185M188 417.5H191M194 417.5H197M200 417.5H203M206 417.5H209M212 417.5H215M218 417.5H221M224 417.5H227M230 417.5H233M236 417.5H239M242 417.5H245M248 417.5H251M254 417.5H257M260 417.5H263M266 417.5H269M272 417.5H275M278 417.5H281M284 417.5H287M290 417.5H293M296 417.5H299M302 417.5H305M308 417.5H311M314 417.5H317M320 417.5H323M326 417.5H329M332 417.5H335M338 417.5H341M344 417.5H347M350 417.5H353M356 417.5H359M362 417.5H365M368 417.5H371M374 417.5H377M380 417.5H383M386 417.5H389M392 417.5H395M398 417.5H401M404 417.5H407M410 417.5H413M416 417.5H419M422 417.5H425M428 417.5H431M434 417.5H437M440 417.5H443M446 417.5H449M452 417.5H455M458 417.5H461M464 417.5H467M470 417.5H473M476 417.5H479M482 417.5H485M488 417.5H491M494 417.5H497M500 417.5H503M506 417.5H509M512 417.5H515M518 417.5H521M524 417.5H527M530 417.5H533M536 417.5H539M542 417.5H545M548 417.5H551M554 417.5H557M560 417.5H563M566 417.5H569M572 417.5H575M578 417.5H581M584 417.5H587M590 417.5H593M596 417.5H599M602 417.5H605M608 417.5H611M614 417.5H617M620 417.5H623M626 417.5H629" stroke="#c0c0c0" stroke-width="1" fill="none"/>
<path class="c" d="M3 447.5H5M8 447.5H11M14 447.5H17M20 447.5H23M26 447.5H29M32 447.5H35M38 447.5H41M44 447.5H47M50 447.5H53M56 447.5H59M62 447.5H65M68 447.5H71M74 447.5H77M80 447.5H83M86 447.5H89M92 447.5H95M98 447.5H101M104 447.5H107M110 447.5H113M116 447.5H119M122 447.5H125M128 447.5H131M134 447.5H137M140 447.5H143M146 447.5H149M152 447.5H155M158 447.5H161M164 447.5H167M170 447.5H173M176 447.5H179M182 447.5H185M188 447.5H191M194 447.5H197M200 447.5H203M206 447.5H209M212 447.5H215M218 447.5H221M224 447.5H227M230 447.5H233M236 447.5H239M242 447.5H245M248 447.5H251M254 447.5H257M260 447.5H263M266 447.5H269M272 447.5H275M278 447.5H281M284 447.5H287M290 447.5H293M296 447.5H299M302 447.5H305M308 447.5H311M314 447.5H317M320 447.5H323M326 447.5H329M332 447.5H335M338 447.5H341M344 447.5H347M350 447.5H353M356 447.5H359M362 447.5H365M368 447.5H371M374 447.5H377M380 447.5H383M386 447.5H389M392 447.5H395M398 447.5H401M404 447.5H407M410 447.5H413M416 447.5H419M422 447.5H425M428 447.5H431M434 447.5H437M440 447.5H443M446 447.5H449M452 447.5H455M458 447.5H461M464 447.5H467M470 447.5H473M476 447.5H479M482 447.5H485M488 447.5H491M494 447.5H497M500 447.5H503M506 447.5H509M512 447.5H515M518 447.5H521M524 447.5H527M530 447.5H533M536 447.5H539M542 447.5H545M548 447.5H551M554 447.5H557M560 447.5H563M566 447.5H569M572 447.5H575M578 447.5H581M584 447.5H587M590 447.5H593M596 447.5H599M602 447.5H605M608 447.5H611M614 447.5H617M620 447.5H623M626 447.5H629" stroke="#c0c0c0" stroke-width="1" fill="none"/>
<path class="c" d="M3 418.5h1M4 418.5h1M5 418.5h1M9 417.5h1M10 417.5h1M11 417.5h1M15 414.5h1M16 415.5h1M17 415.5h1M20 412.5h1M20 411.5h1M21 410.5h1M22 406.5h1M22 405.5h1M22 404.5h1M24 400.5h1M24 399.5h1M25 398.5h1M29 398.5h1M30 398.5h1M31 398.5h1M35 398.5h1M36 398.5h1M37 398.5h1M41 400.5h1M42 400.5h1M43 399.5h1M45 403.5h1M46 404.5h1M46 405.5h1M47 409.5h1M47 410.5h1M47 411.5h1M48 415.5h1M48 416.5h1M49 417.5h1M50 421.5h1M50 422.5h1M50 423.5h1M53 426.5h1M54 425.5h1M54 424.5h1M56 420.5h1M56 419.5h1M57 418.5h1M60 415.5h1M61 414.5h1M62 413.5h1M66 412.5h1M66 413.5h1M67 414.5h1M71 415.5h1M71 414.5h1M72 413.5h1M75 409.5h1M76 409.5h1M77 409.5h1M81 412.5h1M82 413.5h1M83 414.5h1M87 416.5h1M88 416.5h1M89 416.5h1M93 415.5h1M94 415.5h1M95 416.5h1M98 419.5h1M98 420.5h1M99 421.5h1M101 425.5h1M101 426.5h1M101 427.5h1M103 431.5h1M103 432.5h1M104 433.5h1M108 434.5h1M109 434.5h1M110 433.5h1M114 432.5h1M115 432.5h1M115 433.5h1M118 437.5h1M118 438.5h1M118 439.5h1M119 443.5h1M120 444.5h1M120 445.5h1M121 449.5h1M121 450.5h1M121 451.5h1M123 455.5h1M123 456.5h1M124 457.5h1M127 454.5h1M127 453.5h1M127 452.5h1M130 448.5h1M131 447.5h1M132 446.5h1M136 446.5h1M137 447.5h1M138 447.5h1M141 451.5h1M141 452.5h1M142 453.5h1M144 457.5h1M144 458.5h1M145 459.5h1M149 463.5h1M150 463.5h1M151 463.5h1M154 459.5h1M155 458.5h1M156 457.5h1M158 453.5h1M158 452.5h1M159 451.5h1M161 447.5h1M161 446.5h1M162 445.5h1M164 441.5h1M164 440.5h1M165 439.5h1M167 435.5h1M167 434.5h1M168 433.5h1M170 429.5h1M170 428.5h1M170 427.5h1M172 423.5h1M172 422.5h1M173 421.5h1M174 417.5h1M174 416.5h1M175 415.5h1M178 413.5h1M179 413.5h1M180 414.5h1M183 417.5h1M184 418.5h1M184 419.5h1M186 423.5h1M186 424.5h1M187 425.5h1M188 429.5h1M188 430.5h1M189 431.5h1M191 435.5h1M192 436.5h1M193 437.5h1M197 441.5h1M197 442.5h1M198 443.5h1M202 445.5h1M203 444.5h1M204 443.5h1M206 439.5h1M207 438.5h1M207 437.5h1M211 433.5h1M212 432.5h1M213 432.5h1M217 432.5h1M217 433.5h1M218 434.5h1M219 438.5h1M219 439.5h1M219 440.5h1M220 444.5h1M220 445.5h1M220 446.5h1M221 450.5h1M221 451.5h1M221 452.5h1M222 456.5h1M223 457.5h1M223 458.5h1M224 462.5h1M225 463.5h1M226 463.5h1M229 460.5h1M229 459.5h1M230 458.5h1M231 454.5h1M232 453.5h1M232 452.5h1M234 448.5h1M235 449.5h1M235 450.5h1M237 454.5h1M238 455.5h1M239 456.5h1M241 453.5h1M242 452.5h1M242 451.5h1M243 447.5h1M244 446.5h1M244 445.5h1M245 441.5h1M245 440.5h1M245 439.5h1M246 435.5h1M246 434.5h1M246 433.5h1M247 429.5h1M247 428.5h1M247 427.5h1M248 423.5h1M248 422.5h1M248 421.5h1M249 417.5h1M249 416.5h1M250 415.5h1M252 411.5h1M253 411.5h1M254 410.5h1M258 410.5h1M259 411.5h1M259 412.5h1M261 416.5h1M262 417.5h1M262 418.5h1M263 422.5h1M264 423.5h1M264 424.5h1M265 428.5h1M266 429.5h1M266 430.5h1M267 434.5h1M268 435.5h1M268 436.5h1M270 440.5h1M271 439.5h1M272 439.5h1M276 436.5h1M277 435.5h1M278 435.5h1M282 435.5h1M283 436.5h1M283 437.5h1M285 441.5h1M286 442.5h1M286 443.5h1M287 447.5h1M287 448.5h1M288 449.5h1M289 453.5h1M289 454.5h1M289 455.5h1M290 459.5h1M291 460.5h1M291 461.5h1M294 465.5h1M295 464.5h1M296 464.5h1M299 460.5h1M300 459.5h1M300 458.5h1M302 454.5h1M302 453.5h1M303 452.5h1M304 448.5h1M305 447.5h1M305 446.5h1M307 442.5h1M308 441.5h1M309 440.5h1M313 437.5h1M314 438.5h1M315 439.5h1M317 443.5h1M317 444.5h1M318 445.5h1M319 449.5h1M319 450.5h1M320 451.5h1M323 451.5h1M324 450.5h1M324 449.5h1M325 445.5h1M325 444.5h1M326 443.5h1M326 439.5h1M327 438.5h1M327 437.5h1M328 433.5h1M328 432.5h1M328 431.5h1M330 427.5h1M330 426.5h1M330 425.5h1M332 421.5h1M332 420.5h1M333 419.5h1M336 420.5h1M337 421.5h1M337 422.5h1M340 425.5h1M341 424.5h1M341 423.5h1M343 419.5h1M343 418.5h1M344 417.5h1M348 415.5h1M349 415.5h1M350 414.5h1M354 416.5h1M355 417.5h1M355 418.5h1M357 422.5h1M358 423.5h1M358 424.5h1M360 428.5h1M361 429.5h1M362 430.5h1M366 429.5h1M367 429.5h1M368 428.5h1M372 424.5h1M373 423.5h1M373 422.5h1M377 420.5h1M378 421.5h1M378 422.5h1M380 426.5h1M380 427.5h1M380 428.5h1M382 432.5h1M382 433.5h1M382 434.5h1M383 438.5h1M384 439.5h1M384 440.5h1M385 444.5h1M386 445.5h1M387 446.5h1M389 442.5h1M390 441.5h1M390 440.5h1M392 436.5h1M392 435.5h1M393 434.5h1M396 430.5h1M397 429.5h1M398 428.5h1M402 430.5h1M403 431.5h1M403 432.5h1M405 436.5h1M406 437.5h1M406 438.5h1M407 442.5h1M407 443.5h1M407 444.5h1M408 448.5h1M409 449.5h1M409 450.5h1M410 454.5h1M410 455.5h1M410 456.5h1M413 457.5h1M413 456.5h1M414 455.5h1M416 451.5h1M416 450.5h1M417 449.5h1M420 445.5h1M421 444.5h1M422 444.5h1M426 442.5h1M427 441.5h1M427 440.5h1M429 436.5h1M430 435.5h1M430 434.5h1M431 430.5h1M431 429.5h1M431 428.5h1M432 424.5h1M433 423.5h1M433 422.5h1M436 423.5h1M436 424.5h1M437 425.5h1M440 429.5h1M441 429.5h1M442 430.5h1M445 427.5h1M446 426.5h1M446 425.5h1" stroke="#ff0000" stroke-width="1" fill="none"/>
<path class="c" d="M2.5 421V435M3.5 421V435M4.5 422V429M5.5 424V429M6.5 427V430M7.5 428V431M8.5 426V431M9.5 423V429M10.5 422V427M11.5 422V427M12.5 423V427M13.5 422V426M14.5 422V430M15.5 425V432M16.5 428V433M17.5 412V433M18.5 412V429M19.5 412V415M20.5 411V415M21.5 408V413M22.5 405V412M23.5 404V409M24.5 404V419M25.5 406V419M26.5 414V417M27.5 414V418M28.5 415V419M29.5 417V419M30.5 416V419M31.5 415V418M32.5 415V417M33.5 415V417M34.5 415V418M35.5 416V419M36.5 417V419M37.5 415V419M38.5 412V418M39.5 408V416M40.5 406V413M41.5 406V417M42.5 406V431M43.5 416V432M44.5 429V435M45.5 431V439M46.5 434V442M47.5 438V443M48.5 441V443M49.5 437V443M50.5 432V442M51.5 428V438M52.5 426V433M53.5 425V429M54.5 425V427M55.5 424V427M56.5 424V426M57.5 423V426M58.5 423V427M59.5 420V427M60.5 419V424M61.5 419V422M62.5 419V426M63.5 421V430M64.5 425V433M65.5 429V435M66.5 432V436M67.5 428V436M68.5 422V434M69.5 418V429M70.5 416V423M71.5 416V419M72.5 416V423M73.5 418V425M74.5 420V425M75.5 420V426M76.5 422V427M77.5 425V428M78.5 426V428M79.5 425V428M80.5 425V428M81.5 425V431M82.5 427V433M83.5 429V433M84.5 425V433M85.5 424V430M86.5 424V428M87.5 425V429M88.5 421V429M89.5 419V426M90.5 419V428M91.5 422V432M92.5 427V433M93.5 426V433M94.5 425V430M95.5 425V431M96.5 427V436M97.5 430V442M98.5 435V445M99.5 440V445M100.5 438V443M101.5 437V441M102.5 436V439M103.5 436V438M104.5 435V438M105.5 435V438M106.5 436V438M107.5 436V439M108.5 437V439M109.5 437V439M110.5 437V439M111.5 436V439M112.5 436V441M113.5 437V445M114.5 440V450M115.5 444V452M116.5 449V453M117.5 451V454M118.5 451V457M119.5 453V459M120.5 454V459M121.5 448V459M122.5 443V455M123.5 440V449M124.5 440V444M125.5 441V443M126.5 440V443M127.5 440V443M128.5 441V444M129.5 442V445M130.5 442V445M131.5 441V444M132.5 441V444M133.5 442V444M134.5 442V444M135.5 441V444M136.5 441V445M137.5 442V450M138.5 444V454M139.5 449V455M140.5 450V455M141.5 448V453M142.5 448V452M143.5 449V453M144.5 451V454M145.5 452V454M146.5 452V455M147.5 453V455M148.5 452V455M149.5 451V454M150.5 450V454M151.5 449V452M152.5 448V451M153.5 448V450M154.5 448V450M155.5 446V450M156.5 442V450M157.5 441V447M158.5 440V443M159.5 439V442M160.5 439V444M161.5 440V448M162.5 443V449M163.5 440V449M164.5 435V446M165.5 430V441M166.5 427V436M167.5 425V431M168.5 424V428M169.5 423V426M170.5 420V426M171.5 419V424M172.5 419V423M173.5 420V424M174.5 422V424M175.5 422V424M176.5 422V424M177.5 422V425M178.5 422V427M179.5 424V429M180.5 426V430M181.5 428V431M182.5 429V433M183.5 430V435M184.5 432V436M185.5 434V448M186.5 435V448M187.5 435V447M188.5 435V446M189.5 436V446M190.5 438V446M191.5 439V445M192.5 439V445M193.5 438V443M194.5 437V440M195.5 437V442M196.5 439V444M197.5 441V445M198.5 443V446M199.5 442V446M200.5 441V445M201.5 439V443M202.5 438V442M203.5 437V440M204.5 436V439M205.5 435V438M206.5 434V437M207.5 433V436M208.5 432V441M209.5 431V441M210.5 430V441M211.5 428V441M212.5 426V435M213.5 425V441M214.5 421V441M215.5 421V441M216.5 421V441M217.5 431V443M218.5 436V444M219.5 442V445M220.5 443V445M221.5 443V445M222.5 443V445M223.5 443V445M224.5 442V445M225.5 442V444M226.5 441V444M227.5 440V443M228.5 439V442M229.5 438V441M230.5 438V440M231.5 438V443M232.5 439V447M233.5 442V451M234.5 446V452M235.5 448V452M236.5 445V451M237.5 442V449M238.5 439V446M239.5 435V443M240.5 430V440M241.5 428V436M242.5 427V431M243.5 426V429M244.5 422V429M245.5 420V427M246.5 419V423M247.5 419V423M248.5 420V424M249.5 421V424M250.5 420V424M251.5 419V422M252.5 419V423M253.5 421V424M254.5 420V424M255.5 419V422M256.5 419V424M257.5 420V428M258.5 423V431M259.5 427V438M260.5 430V439M261.5 431V443M262.5 435V443M263.5 439V442M264.5 438V442M265.5 437V441M266.5 429V439M267.5 429V438M268.5 429V438M269.5 435V437M270.5 434V437M271.5 433V436M272.5 433V435M273.5 433V435M274.5 433V436M275.5 434V437M276.5 435V437M277.5 435V438M278.5 436V440M279.5 437V442M280.5 439V444M281.5 441V447M282.5 443V450M283.5 446V451M284.5 449V452M285.5 450V453M286.5 451V455M287.5 452V457M288.5 454V459M289.5 455V460M290.5 443V460M291.5 443V456M292.5 445V451M293.5 448V450M294.5 448V451M295.5 449V451M296.5 449V451M297.5 448V451M298.5 447V450M299.5 444V450M300.5 439V448M301.5 437V445M302.5 436V442M303.5 436V442M304.5 435V440M305.5 430V441M306.5 429V441M307.5 429V439M308.5 435V437M309.5 434V437M310.5 429V438M311.5 429V446M312.5 429V450M313.5 443V450M314.5 440V448M315.5 439V446M316.5 432V446M317.5 432V445M318.5 433V443M319.5 438V441M320.5 438V440M321.5 436V440M322.5 434V439M323.5 431V437M324.5 428V435M325.5 427V432M326.5 426V429M327.5 425V428M328.5 423V427M329.5 421V426M330.5 421V427M331.5 424V428M332.5 426V429M333.5 427V431M334.5 428V433M335.5 430V440M336.5 429V440M337.5 426V440M338.5 425V430M339.5 425V427M340.5 425V427M341.5 425V428M342.5 426V428M343.5 425V428M344.5 425V427M345.5 425V428M346.5 425V428M347.5 424V427M348.5 424V426M349.5 424V427M350.5 425V429M351.5 426V432M352.5 428V435M353.5 431V437M354.5 434V438M355.5 436V439M356.5 435V439M357.5 433V438M358.5 433V449M359.5 432V449M360.5 431V449M361.5 429V448M362.5 429V442M363.5 429V432M364.5 430V432M365.5 430V432M366.5 429V432M367.5 429V431M368.5 428V431M369.5 427V430M370.5 425V429M371.5 424V428M372.5 424V426M373.5 424V428M374.5 425V432M375.5 427V436M376.5 431V439M377.5 435V442M378.5 438V443M379.5 441V444M380.5 442V446M381.5 443V453M382.5 442V453M383.5 440V453M384.5 438V450M385.5 434V445M386.5 432V439M387.5 431V435M388.5 431V434M389.5 432V435M390.5 433V435M391.5 432V435M392.5 429V435M393.5 427V433M394.5 427V430M395.5 427V435M396.5 428V435M397.5 431V438M398.5 432V439M399.5 432V439M400.5 432V436M401.5 433V439M402.5 435V443M403.5 438V447M404.5 442V448M405.5 446V450M406.5 447V452M407.5 449V457M408.5 448V457M409.5 445V454M410.5 436V449M411.5 436V446M412.5 437V444M413.5 440V442M414.5 439V442M415.5 438V441M416.5 437V442M417.5 437V442M418.5 438V442M419.5 440V442M420.5 440V443M421.5 441V443M422.5 440V443M423.5 440V446M424.5 440V450M425.5 432V450M426.5 432V449M427.5 423V434M428.5 421V434M429.5 420V424M430.5 419V423M431.5 419V429M432.5 422V434M433.5 428V436M434.5 428V436M435.5 428V433M436.5 430V435M437.5 432V436M438.5 432V436M439.5 432V436M440.5 433V437M441.5 433V437M442.5 429V436M443.5 426V434M444.5 425V430M445.5 423V427M446.5 421V426M447.5 420V429M448.5 420V429" stroke="#1e90ff" stroke-width="1" fill="none"/>
</g>
<text x="5.2" y="395.5" style="letter-spacing:0.06px">MACD(5,34,5)</text>
<text x="87.7" y="395.5" style="letter-spacing:0.19px">-0.000094</text>
<text x="148.5" y="395.5" style="letter-spacing:0.23px">-0.000441</text>
<text x="208.6" y="395.5" style="letter-spacing:0.15px">RSI(14)</text>
<text x="254.7" y="395.5" style="letter-spacing:0.45px">50.25</text>
<rect class="c" x="2" y="2" width="629" height="1" fill="#000"/>
<rect class="c" x="2" y="378" width="629" height="1" fill="#000"/>
<rect class="c" x="2" y="2" width="1" height="377" fill="#000"/>
<rect class="c" x="630" y="2" width="1" height="377" fill="#000"/>
<rect class="c" x="630" y="380" width="1" height="97" fill="#000"/>
<rect class="c" x="2" y="380" width="633" height="1" fill="#000"/>
<rect class="c" x="2" y="476" width="633" height="1" fill="#000"/>
<rect class="c" x="2" y="380" width="1" height="101" fill="#000"/>
<rect class="c" x="130" y="476" width="1" height="5" fill="#000"/>
<rect class="c" x="258" y="476" width="1" height="5" fill="#000"/>
<rect class="c" x="386" y="476" width="1" height="5" fill="#000"/>
<text x="2" y="491.6" style="letter-spacing:0.36px">13 Apr 2018</text>
<text x="129.6" y="491.6" style="letter-spacing:0.42px">23 Apr 02:00</text>
<text x="257.6" y="491.6" style="letter-spacing:0.42px">30 Apr 10:00</text>
<text x="385.8" y="491.6" style="letter-spacing:0.25px">7 May 18:00</text>
<rect class="c" x="631" y="25" width="4" height="1" fill="#000"/>
<text class="ax" x="636.1" y="29.8">1.24635</text>
<rect class="c" x="631" y="57" width="4" height="1" fill="#000"/>
<text class="ax" x="636.1" y="61.8">1.23970</text>
<rect class="c" x="631" y="89" width="4" height="1" fill="#000"/>
<text class="ax" x="636.1" y="93.8">1.23305</text>
<rect class="c" x="631" y="121" width="4" height="1" fill="#000"/>
<text class="ax" x="636.1" y="125.8">1.22640</text>
<rect class="c" x="631" y="153" width="4" height="1" fill="#000"/>
<text class="ax" x="636.1" y="157.8">1.21975</text>
<rect class="c" x="631" y="185" width="4" height="1" fill="#000"/>
<text class="ax" x="636.1" y="189.8">1.21310</text>
<rect class="c" x="631" y="218" width="4" height="1" fill="#000"/>
<text class="ax" x="636.1" y="222.8">1.20645</text>
<rect class="c" x="631" y="250" width="4" height="1" fill="#000"/>
<text class="ax" x="636.1" y="254.8">1.19980</text>
<rect class="c" x="631" y="282" width="4" height="1" fill="#000"/>
<text class="ax" x="636.1" y="286.8">1.19315</text>
<rect class="c" x="631" y="314" width="4" height="1" fill="#000"/>
<text class="ax" x="636.1" y="318.8">1.18650</text>
<rect class="c" x="631" y="346" width="4" height="1" fill="#000"/>
<text class="ax" x="636.1" y="350.8">1.17985</text>
<text class="ax" x="636.1" y="391.8">0.003791</text>
<text class="ax" x="636.1" y="413.3">70.00</text>
<text class="ax" x="636.1" y="421.8">0.000000</text>
<text class="ax" x="636.1" y="451.8">30.00</text>
<text class="ax" x="635.6" y="473.8" style="letter-spacing:0.2px">-0.006121</text>
<rect class="c" x="631" y="409" width="4" height="1" fill="#000"/>
<rect class="c" x="631" y="417" width="2" height="1" fill="#c0c0c0"/>
<rect class="c" x="631" y="447" width="4" height="1" fill="#000"/>
<rect class="c" x="633" y="218" width="54" height="14" fill="#0000ff"/>
<text class="ax" x="637.2" y="229.9" style="fill:#fff;stroke:none">1.20488</text>
<rect class="c" x="633" y="260" width="54" height="14" fill="#0000ff"/>
<text class="ax" x="637.2" y="271.9" style="fill:#fff;stroke:none">1.19628</text>
<rect class="c" x="633" y="308" width="54" height="14" fill="#c0c0c0"/>
<text class="ax" x="637.2" y="319.9" style="fill:#fff;stroke:none">1.18618</text>
<rect class="c" x="633" y="328" width="54" height="14" fill="#ff0000"/>
<text class="ax" x="637.2" y="339.9" style="fill:#fff;stroke:none">1.18204</text>
</svg>
</body></html>
